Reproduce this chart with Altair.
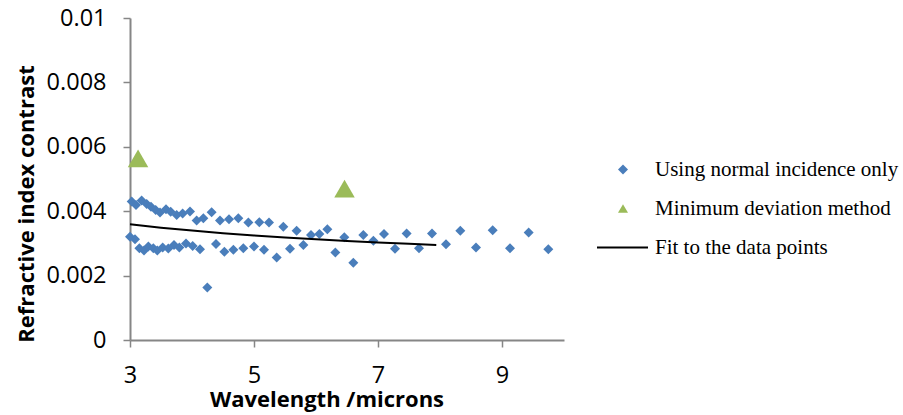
import altair as alt
import pandas as pd

S_NORMAL = "Using normal incidence only"
S_MINDEV = "Minimum deviation method"
S_FIT = "Fit to the data points"

normal_x = [3.000, 3.027, 3.081, 3.097, 3.151, 3.188, 3.226, 3.269, 3.296, 3.339,
            3.376, 3.414, 3.441, 3.484, 3.527, 3.581, 3.618, 3.656, 3.710, 3.753,
            3.796, 3.849, 3.903, 3.968, 4.011, 4.075, 4.129, 4.183, 4.247, 4.317,
            4.387, 4.452, 4.522, 4.597, 4.667, 4.747, 4.828, 4.909, 5.000, 5.086,
            5.161, 5.242, 5.366, 5.473, 5.581, 5.688, 5.796, 5.919, 6.054, 6.183,
            6.312, 6.457, 6.602, 6.763, 6.925, 7.097, 7.274, 7.462, 7.661, 7.871,
            8.097, 8.328, 8.581, 8.850, 9.129, 9.430, 9.747]
normal_y = [0.00321, 0.00430, 0.00313, 0.00419, 0.00285, 0.00433, 0.00278, 0.00422, 0.00290, 0.00414,
            0.00285, 0.00404, 0.00278, 0.00396, 0.00287, 0.00406, 0.00284, 0.00398, 0.00295, 0.00388,
            0.00287, 0.00393, 0.00300, 0.00399, 0.00292, 0.00371, 0.00282, 0.00378, 0.00163, 0.00397,
            0.00298, 0.00371, 0.00274, 0.00375, 0.00280, 0.00378, 0.00285, 0.00365, 0.00290, 0.00366,
            0.00280, 0.00365, 0.00256, 0.00352, 0.00283, 0.00339, 0.00295, 0.00326, 0.00329, 0.00344,
            0.00272, 0.00319, 0.00240, 0.00326, 0.00308, 0.00329, 0.00283, 0.00331, 0.00285, 0.00331,
            0.00297, 0.00339, 0.00287, 0.00341, 0.00285, 0.00334, 0.00282]

mindev_x = [3.13, 6.46]
mindev_y = [0.00564, 0.00470]

fit_x = [3.0, 3.5, 4.0, 4.5, 5.0, 5.5, 6.0, 6.5, 7.0, 7.5, 7.94]
fit_y = [0.003597, 0.003487, 0.003397, 0.003316, 0.003246, 0.003184,
         0.003129, 0.003078, 0.003031, 0.002988, 0.002952]

x_ticks = [3, 5, 7, 9]
y_ticks = [0, 0.002, 0.004, 0.006, 0.008, 0.01]

point_series = [S_NORMAL, S_MINDEV]
point_colors = ["#4A7EBB", "#9BBB59"]
point_shapes = ["diamond", "triangle-up"]
line_series = [S_FIT]
line_colors = ["#000000"]

df_normal = pd.DataFrame({"x": normal_x, "y": normal_y, "series": S_NORMAL})
df_mindev = pd.DataFrame({"x": mindev_x, "y": mindev_y, "series": S_MINDEV})
df_fit = pd.DataFrame({"x": fit_x, "y": fit_y, "series": S_FIT})

label_style = dict(labelFont="Liberation Serif", labelFontSize=21, labelColor="black", labelLimit=400)

point_legend = alt.Legend(
    orient="none", legendX=482.5, legendY=141, labelOffset=21.5, rowPadding=17,
    symbolSize=100, symbolStrokeWidth=0, symbolOpacity=1, **label_style,
)
line_legend = alt.Legend(
    orient="none", legendX=466, legendY=203, labelOffset=6,
    symbolType="stroke", symbolSize=2601, symbolStrokeWidth=2, symbolOpacity=1,
    symbolStrokeColor="black", **label_style,
)

x_enc = alt.X("x:Q",
              scale=alt.Scale(domain=[3, 10], nice=False, zero=False),
              axis=alt.Axis(values=x_ticks, format="d", title="Wavelength /microns",
                            labelBaseline="alphabetic", labelPadding=35, labelFlush=False,
                            titleX=196.5, titleY=66.5, titleBaseline="alphabetic", titleAlign="center"))
y_enc = alt.Y("y:Q",
              scale=alt.Scale(domain=[0, 0.01], nice=False),
              axis=alt.Axis(values=y_ticks, format=".3~f", title="Refractive index contrast",
                            labelPadding=17, labelFlush=False,
                            titleX=-96.7, titleY=185.5, titleBaseline="alphabetic", titleAlign="center"))

fill_enc = alt.Fill("series:N", title=None,
                    scale=alt.Scale(domain=point_series, range=point_colors), legend=point_legend)
shape_enc = alt.Shape("series:N", title=None,
                      scale=alt.Scale(domain=point_series, range=point_shapes), legend=point_legend)
stroke_enc = alt.Stroke("series:N", title=None,
                        scale=alt.Scale(domain=line_series, range=line_colors), legend=line_legend)

normal_layer = alt.Chart(df_normal).mark_point(filled=True, opacity=1, size=100).encode(
    x=x_enc, y=y_enc, fill=fill_enc, shape=shape_enc)

mindev_layer = alt.Chart(df_mindev).mark_point(filled=True, opacity=1, size=420).encode(
    x=x_enc, y=y_enc, fill=fill_enc, shape=shape_enc)

fit_layer = alt.Chart(df_fit).mark_line(strokeWidth=2).encode(
    x=x_enc, y=y_enc, stroke=stroke_enc)

chart = alt.layer(normal_layer, mindev_layer, fit_layer).properties(
    width=434, height=322,
    padding={"left": 130, "top": 18, "right": 339, "bottom": 75},
    autosize=alt.AutoSizeParams(type="none"),
).configure_view(stroke="transparent").configure_axis(
    grid=False, domainColor="#868686", tickColor="#868686", tickSize=7,
    domainWidth=2, tickWidth=1.5,
    labelFont="Open Sans", labelFontSize=23.5, labelColor="black",
    titleFont="Open Sans", titleFontSize=22, titleFontWeight="bold", titleColor="black",
)

chart.save("out.html", embed_options={"renderer": "svg", "actions": False})
